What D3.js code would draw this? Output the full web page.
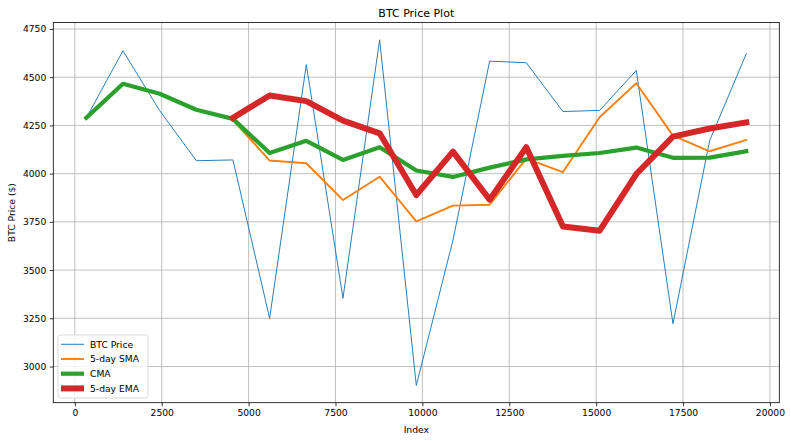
<!DOCTYPE html>
<html>
<head>
<meta charset="utf-8">
<script src="https://cdn.jsdelivr.net/npm/d3@7"></script>
<style>
  html, body { margin: 0; padding: 0; background: #fff; }
  text { font-family: "DejaVu Sans", sans-serif; fill: #000; }
</style>
</head>
<body>
<svg id="chart" width="791" height="441"></svg>
<script>
// ---- data ----
const indexValues = [330,1385,2440,3495,4550,5605,6660,7715,8770,9825,10880,11935,12990,14045,15100,16155,17210,18265,19320];
const btcPrice = [4289,4637,4327,4067,4071,3250,4565,3354,4694,2902,3655,4583,4575,4322,4328,4535,3222,4171,4622];
const sma5 = [null,null,null,null,4278,4068,4054,3863,3984,3752,3834,3839,4078,4008,4292,4469,4197,4116,4175];
const cma = [4289,4466,4414,4331,4284,4107,4170,4071,4137,4016,3983,4031,4074,4092,4107,4135,4082,4083,4116];
const ema5 = [null,null,null,null,4289,4405,4376,4275,4209,3889,4114,3865,4137,3726,3704,3998,4192,4234,4266];
const xTicks = [0,2500,5000,7500,10000,12500,15000,17500,20000];
const yTicks = [3000,3250,3500,3750,4000,4250,4500,4750];
const seriesNames = ["BTC Price","5-day SMA","CMA","5-day EMA"];
const seriesColors = ["#1f77b4","#ff7f0e","#2ca02c","#d62728"];
const seriesWidths = [0.95,1.9,4.2,6];

const W = 791, H = 441;
const margin = {left: 53.3, right: 11.7, top: 22.5, bottom: 38.3};
const svg = d3.select("#chart");

const xExt = d3.extent(indexValues), xPad = (xExt[1]-xExt[0])*0.05;
const yExt = d3.extent(btcPrice), yPad = (yExt[1]-yExt[0])*0.05;
const x = d3.scaleLinear().domain([xExt[0]-xPad, xExt[1]+xPad]).range([margin.left, W-margin.right]);
const y = d3.scaleLinear().domain([yExt[0]-yPad, yExt[1]+yPad]).range([H-margin.bottom, margin.top]);

// grid
const grid = svg.append("g");
grid.selectAll(".gx").data(xTicks).join("line")
  .attr("x1", d=>x(d)).attr("x2", d=>x(d)).attr("y1", margin.top).attr("y2", H-margin.bottom)
  .attr("stroke","#b0b0b0").attr("stroke-width",0.8);
grid.selectAll(".gy").data(yTicks).join("line")
  .attr("y1", d=>y(d)).attr("y2", d=>y(d)).attr("x1", margin.left).attr("x2", W-margin.right)
  .attr("stroke","#b0b0b0").attr("stroke-width",0.8);

// series
const seriesData = [btcPrice, sma5, cma, ema5];
const line = d3.line().defined(d=>d[1]!=null).x(d=>x(d[0])).y(d=>y(d[1]));
const plot = svg.append("g");
seriesData.forEach((vals,k)=>{
  plot.append("path")
    .datum(indexValues.map((ix,i)=>[ix, vals[i]]))
    .attr("fill","none").attr("stroke",seriesColors[k]).attr("stroke-width",seriesWidths[k])
    .attr("stroke-linejoin","round").attr("stroke-linecap","square")
    .attr("d", line);
});

// axes
const xAxis = d3.axisBottom(x).tickValues(xTicks).tickSize(3.5).tickPadding(3.5).tickFormat(d3.format("d"));
const yAxis = d3.axisLeft(y).tickValues(yTicks).tickSize(3.5).tickPadding(3.5).tickFormat(d3.format("d"));
const gx = svg.append("g").attr("transform",`translate(0,${H-margin.bottom})`).call(xAxis);
const gy = svg.append("g").attr("transform",`translate(${margin.left},0)`).call(yAxis);
[gx,gy].forEach(g=>{
  g.select(".domain").remove();
  g.selectAll(".tick line").attr("stroke","#000").attr("stroke-width",0.8);
  g.selectAll(".tick text").attr("font-size","9.2px").attr("fill","#000").style("font-family","DejaVu Sans");
});

// frame
svg.append("rect").attr("x",margin.left).attr("y",margin.top)
  .attr("width",W-margin.left-margin.right).attr("height",H-margin.top-margin.bottom)
  .attr("fill","none").attr("stroke","#000").attr("stroke-width",0.8);

// title & labels
svg.append("text").attr("x",(margin.left+W-margin.right)/2).attr("y",16.5)
  .attr("text-anchor","middle").attr("font-size","11px").text("BTC Price Plot");
svg.append("text").attr("x",(margin.left+W-margin.right)/2).attr("y",433)
  .attr("text-anchor","middle").attr("font-size","9.2px").text("Index");
svg.append("text").attr("transform",`translate(15,${(margin.top+H-margin.bottom)/2}) rotate(-90)`)
  .attr("text-anchor","middle").attr("font-size","9.2px").text("BTC Price ($)");

// legend
const lg = svg.append("g").attr("transform","translate(58,335)");
lg.append("rect").attr("width",90).attr("height",63).attr("rx",2.5)
  .attr("fill","#fff").attr("fill-opacity",0.8).attr("stroke","#d0d0d0").attr("stroke-width",0.8);
seriesNames.forEach((name,k)=>{
  const yy = 9.3 + k*14.7;
  lg.append("line").attr("x1",3).attr("x2",26).attr("y1",yy).attr("y2",yy)
    .attr("stroke",seriesColors[k]).attr("stroke-width",seriesWidths[k]);
  lg.append("text").attr("x",32).attr("y",yy+3.3).attr("font-size","9.2px").text(name);
});
</script>
</body>
</html>
